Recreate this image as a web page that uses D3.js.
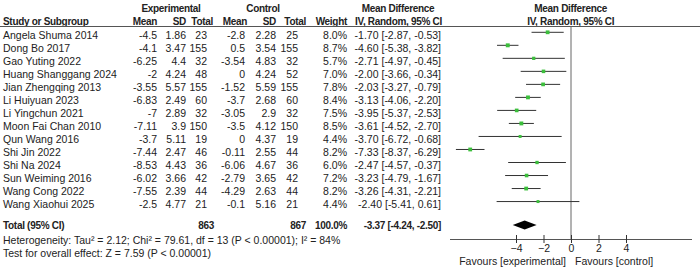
<!DOCTYPE html>
<html>
<head>
<meta charset="utf-8">
<script src="https://cdn.jsdelivr.net/npm/d3@7"></script>
<style>
  body { margin: 0; background: #fff; }
  svg text { font-family: "Liberation Sans", Arial, sans-serif; font-size: 10.5px; fill: #222; }
  svg text.bold { font-weight: bold; font-size: 10px; letter-spacing: -0.3px; }
</style>
</head>
<body>
<svg id="chart"></svg>
<script>
//Study Data
const studies = ["Angela Shuma 2014", "Dong Bo 2017", "Gao Yuting 2022", "Huang Shanggang 2024", "Jian Zhengqing 2013",
  "Li Huiyuan 2023", "Li Yingchun 2021", "Moon Fai Chan 2010", "Qun Wang 2016", "Shi Jin 2022", "Shi Na 2024",
  "Sun Weiming 2016", "Wang Cong 2022", "Wang Xiaohui 2025"];
const expMean = [-4.5, -4.1, -6.25, -2, -3.55, -6.83, -7, -7.11, -3.7, -7.44, -8.53, -6.02, -7.55, -2.5];
const expSD = [1.86, 3.47, 4.4, 4.24, 5.57, 2.49, 2.89, 3.9, 5.11, 2.47, 4.43, 3.66, 2.39, 4.77];
const expN = [23, 155, 32, 48, 155, 60, 32, 150, 19, 46, 36, 42, 44, 21];
const ctlMean = [-2.8, 0.5, -3.54, 0, -1.52, -3.7, -3.05, -3.5, 0, -0.11, -6.06, -2.79, -4.29, -0.1];
const ctlSD = [2.28, 3.54, 4.83, 4.24, 5.59, 2.68, 2.9, 4.12, 4.37, 2.55, 4.67, 3.65, 2.63, 5.16];
const ctlN = [25, 155, 32, 52, 155, 60, 32, 150, 19, 44, 36, 42, 44, 21];
const weights = [8.0, 8.7, 5.7, 7.0, 7.8, 8.4, 7.5, 8.5, 4.4, 8.2, 6.0, 7.2, 8.2, 4.4];
const md = [-1.70, -4.60, -2.71, -2.00, -2.03, -3.13, -3.95, -3.61, -3.70, -7.33, -2.47, -3.23, -3.26, -2.40];
const ciLow = [-2.87, -5.38, -4.97, -3.66, -3.27, -4.06, -5.37, -4.52, -6.72, -8.37, -4.57, -4.79, -4.31, -5.41];
const ciHigh = [-0.53, -3.82, -0.45, -0.34, -0.79, -2.20, -2.53, -2.70, -0.68, -6.29, -0.37, -1.67, -2.21, 0.61];

//Pooled Result
const totalExp = 863;
const totalCtl = 867;
const pooled = { md: -3.37, lo: -4.24, hi: -2.50 };
const axisTicks = [-4, -2, 0, 2, 4];

const w = 700;
const h = 270;
const rowTop = 32.3;
const rowStep = 13.02;

const svg = d3.select("#chart").attr("width", w).attr("height", h);

const xScale = d3.scaleLinear().domain([-8.8, 8.8]).range([450, 692]);
const rowY = (i) => rowTop + i * rowStep;

//Column Setup (right edges: values, header)
const cols = [
  { x: 157, hx: 157, label: "Mean", get: (i) => String(expMean[i]) },
  { x: 186, hx: 186, label: "SD", get: (i) => String(expSD[i]) },
  { x: 207, hx: 213, label: "Total", get: (i) => String(expN[i]) },
  { x: 245, hx: 247, label: "Mean", get: (i) => String(ctlMean[i]) },
  { x: 276, hx: 276, label: "SD", get: (i) => String(ctlSD[i]) },
  { x: 298, hx: 306, label: "Total", get: (i) => String(ctlN[i]) },
  { x: 347, hx: 347, label: "Weight", get: (i) => weights[i].toFixed(1) + "%" },
  { x: 441, hx: 442, label: "IV, Random, 95% CI", get: (i) => md[i].toFixed(2) + " [" + ciLow[i].toFixed(2) + ", " + ciHigh[i].toFixed(2) + "]" }
];

//Header
const head = svg.append("g");
head.append("text").attr("class", "bold").attr("x", 171).attr("y", 11.5).attr("text-anchor", "middle").text("Experimental");
head.append("text").attr("class", "bold").attr("x", 263).attr("y", 11.5).attr("text-anchor", "middle").text("Control");
head.append("text").attr("class", "bold").attr("x", 398).attr("y", 11.5).attr("text-anchor", "middle").text("Mean Difference");
head.append("text").attr("class", "bold").attr("x", 570.7).attr("y", 11.5).attr("text-anchor", "middle").text("Mean Difference");
head.append("text").attr("class", "bold").attr("x", 570.7).attr("y", 25).attr("text-anchor", "middle").text("IV, Random, 95% CI");
head.append("text").attr("class", "bold").attr("x", 3).attr("y", 25).text("Study or Subgroup");
head.selectAll(".colhead")
    .data(cols)
    .enter()
    .append("text")
    .attr("class", "bold colhead")
    .attr("x", (d) => d.hx)
    .attr("y", 25)
    .attr("text-anchor", "end")
    .text((d) => d.label);

svg.append("line")
   .attr("x1", 0).attr("x2", w)
   .attr("y1", 26.5).attr("y2", 26.5)
   .attr("stroke", "#555").attr("stroke-width", 1);

//Study Rows
const rows = svg.selectAll(".row")
                .data(studies)
                .enter()
                .append("g")
                .attr("class", "row")
                .attr("transform", (d, i) => "translate(0," + (rowY(i) + 6.2) + ")");

rows.append("text").attr("x", 3).text((d) => d);
cols.forEach((c) => {
  rows.append("text")
      .attr("x", c.x)
      .attr("text-anchor", "end")
      .text((d, i) => c.get(i));
});

//Zero Line
svg.append("line")
   .attr("x1", xScale(0)).attr("x2", xScale(0))
   .attr("y1", 26.5).attr("y2", 239)
   .attr("stroke", "#666").attr("stroke-width", 1);

//CI Lines and Squares
svg.selectAll(".ci")
   .data(studies)
   .enter()
   .append("line")
   .attr("class", "ci")
   .attr("x1", (d, i) => xScale(ciLow[i]))
   .attr("x2", (d, i) => xScale(ciHigh[i]))
   .attr("y1", (d, i) => rowY(i))
   .attr("y2", (d, i) => rowY(i))
   .attr("stroke", "#333")
   .attr("stroke-width", 1);

const sqSize = (i) => 2 + weights[i] * 0.22;
svg.selectAll(".sq")
   .data(studies)
   .enter()
   .append("rect")
   .attr("class", "sq")
   .attr("width", (d, i) => sqSize(i))
   .attr("height", (d, i) => sqSize(i))
   .attr("x", (d, i) => xScale(md[i]) - sqSize(i) / 2)
   .attr("y", (d, i) => rowY(i) - sqSize(i) / 2)
   .attr("fill", "#3cbf3c");

//Total Row
const totY = 225;
const tot = svg.append("g").attr("transform", "translate(0," + (totY + 4) + ")");
tot.append("text").attr("class", "bold").attr("x", 3).text("Total (95% CI)");
tot.append("text").attr("class", "bold").attr("x", 214).attr("text-anchor", "end").text(totalExp);
tot.append("text").attr("class", "bold").attr("x", 306).attr("text-anchor", "end").text(totalCtl);
tot.append("text").attr("class", "bold").attr("x", 347).attr("text-anchor", "end").text("100.0%");
tot.append("text").attr("class", "bold").attr("x", 441).attr("text-anchor", "end")
   .text(pooled.md.toFixed(2) + " [" + pooled.lo.toFixed(2) + ", " + pooled.hi.toFixed(2) + "]");

svg.append("path")
   .attr("d", "M" + xScale(pooled.lo) + "," + totY +
              "L" + xScale(pooled.md) + "," + (totY - 4.5) +
              "L" + xScale(pooled.hi) + "," + totY +
              "L" + xScale(pooled.md) + "," + (totY + 4.5) + "Z")
   .attr("fill", "#000");

svg.append("text").attr("x", 3).attr("y", 243.5)
   .text("Heterogeneity: Tau² = 2.12; Chi² = 79.61, df = 13 (P < 0.00001); I² = 84%");
svg.append("text").attr("x", 3).attr("y", 256.5)
   .text("Test for overall effect: Z = 7.59 (P < 0.00001)");

//Axis Setup
const xAxis = d3.axisBottom(xScale).tickValues(axisTicks).tickSize(4).tickFormat(d3.format("d"));
const axisG = svg.append("g")
                 .attr("transform", "translate(0,239)")
                 .call(xAxis);
axisG.select(".domain").attr("d", "M450,0.5H692").attr("stroke", "#555");
axisG.selectAll(".tick line").attr("y1", -4).attr("y2", 4).attr("stroke", "#333");
axisG.selectAll(".tick text")
     .attr("y", 13)
     .attr("dy", 0)
     .style("font-family", "\"Liberation Sans\", Arial, sans-serif")
     .style("font-size", "10.5px")
     .attr("fill", "#222");

svg.append("text").attr("x", 566).attr("y", 265).attr("text-anchor", "end").text("Favours [experimental]");
svg.append("text").attr("x", 575).attr("y", 265).text("Favours [control]");
</script>
</body>
</html>
